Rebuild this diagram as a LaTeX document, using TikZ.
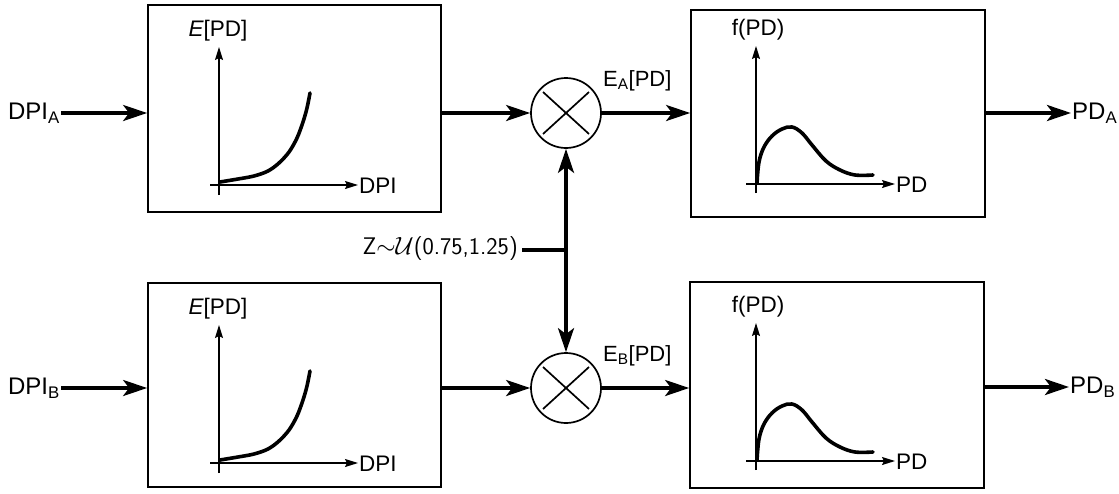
\documentclass[tikz,border=0pt]{standalone}
\usepackage{fontspec}
\setmainfont{Liberation Sans}
\usetikzlibrary{arrows.meta}
\tikzset{
  blk/.style={draw, line width=1.7pt, inner sep=0pt},
  mult/.style={draw, circle, line width=1.7pt, minimum size=70pt, inner sep=0pt},
  bigarrow/.style={line width=3.6pt, -{Stealth[length=24pt,width=16pt,inset=6pt]}},
  biline/.style={line width=3.6pt, {Stealth[length=24pt,width=16pt,inset=6pt]}-{Stealth[length=24pt,width=16pt,inset=6pt]}},
  thickline/.style={line width=3.6pt},
  axis/.style={line width=1.3pt, -{Stealth[length=13pt,width=8pt,inset=2pt]}},
  curve/.style={line width=3.6pt, line cap=round, line join=round},
  outlbl/.style={font=\fontsize{24}{28}\selectfont, inner sep=1pt},
  midlbl/.style={font=\fontsize{22}{26}\selectfont, inner sep=1pt},
  inlbl/.style={font=\fontsize{22.5}{26}\selectfont, inner sep=1pt},
  zlbl/.style={font=\sffamily\fontsize{24}{28}\selectfont, inner sep=1pt},
}
\begin{document}
\begin{tikzpicture}[x=1pt,y=-1pt]
\useasboundingbox (0,0) rectangle (1119,493);
% blocks
\node[blk, minimum width=293pt, minimum height=207pt] (bA) at (294.5,108.5) {};
\node[blk, minimum width=293pt, minimum height=204pt] (bB) at (294.5,385) {};
\node[blk, minimum width=294pt, minimum height=207pt] (pA) at (838,113.5) {};
\node[blk, minimum width=294pt, minimum height=206pt] (pB) at (837,385) {};
\node[mult] (cA) at (566,113) {};
\node[mult] (cB) at (566,388) {};
% labels
\node[outlbl, anchor=east] (inA) at (61,113) {DPI\textsubscript{A}};
\node[outlbl, anchor=east] (inB) at (61,388) {DPI\textsubscript{B}};
\node[outlbl, anchor=west] (outA) at (1071,113) {PD\textsubscript{A}};
\node[outlbl, anchor=west] (outB) at (1069,387) {PD\textsubscript{B}};
\node[midlbl, anchor=south west] (eA) at (602,92) {E\textsubscript{A}[PD]};
\node[midlbl, anchor=south west] (eB) at (602,367) {E\textsubscript{B}[PD]};
\node[zlbl, anchor=east] (z) at (519,249) {Z${\sim}\mathcal{U}$(0.75,1.25)};
% connectors
\draw[bigarrow] (inA.east) -- (inA.east -| bA.west);
\draw[bigarrow] (inB.east) -- (inB.east -| bB.west);
\draw[bigarrow] (cA.west -| bA.east) -- (cA.west);
\draw[bigarrow] (cB.west -| bB.east) -- (cB.west);
\draw[bigarrow] (cA.east) -- (cA.east -| pA.west);
\draw[bigarrow] (cB.east) -- (cB.east -| pB.west);
\draw[bigarrow] (outA.west -| pA.east) -- (outA.west);
\draw[bigarrow] (outB.west -| pB.east) -- (outB.west);
\draw[biline] (cA.south) -- (cB.north);
\coordinate (zj) at (566,250);
\draw[thickline] (522,250) -- (zj);
% plots: exponential-like curves
\foreach \dy in {0,278}{
  \begin{scope}[yshift=-\dy pt]
    \draw[axis] (219,195) -- (219,47);
    \draw[axis] (210,185) -- (358,185);
    \node[inlbl, anchor=west] at (358,186) {DPI};
    \node[inlbl] at (218,31) {\textit{E}[PD]};
    \draw[curve] plot[smooth, tension=0.55] coordinates {(220,182) (238,179) (254,176) (268,171) (279,163) (289,152) (297,138) (303,122) (307,108) (310,93)};
  \end{scope}
}
\foreach \dy in {0,277}{
  \begin{scope}[yshift=-\dy pt]
    \draw[axis] (756,193) -- (756,46);
    \draw[axis] (746,184) -- (895,184);
    \node[inlbl, anchor=west] at (895,185) {PD};
    \node[inlbl] at (758,30) {f(PD)};
    \draw[curve] plot[smooth, tension=0.6] coordinates {(757,183) (759,162) (764,147) (772,136) (782,129) (792,127) (802,133) (812,145) (826,161) (840,170) (855,175) (873,175)};
  \end{scope}
}
\foreach \c in {cA,cB}{
  \draw[line width=1.7pt] ([shift={(-23,-21)}]\c.center) -- ([shift={(23,21)}]\c.center);
  \draw[line width=1.7pt] ([shift={(-23,21)}]\c.center) -- ([shift={(23,-21)}]\c.center);
}
\end{tikzpicture}
\end{document}
